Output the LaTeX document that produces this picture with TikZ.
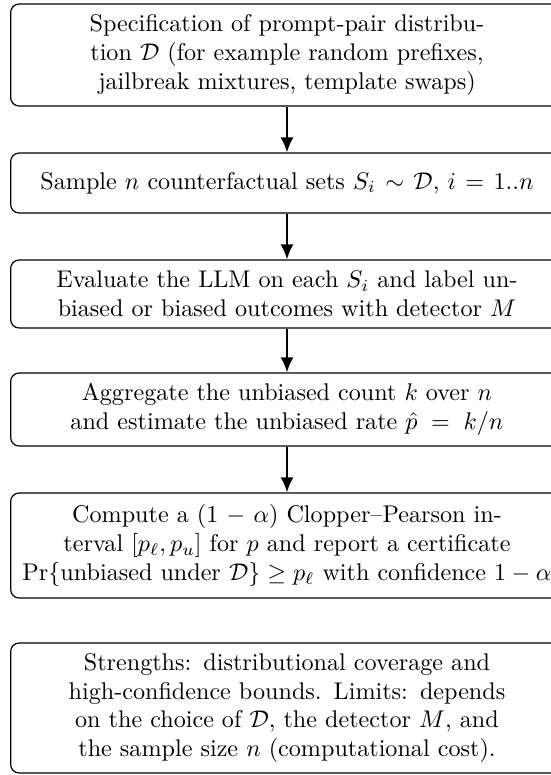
\documentclass[tikz,border=0pt]{standalone}
\usepackage{amsmath,amssymb}
\usetikzlibrary{arrows.meta}

\tikzset{
  stagebox/.style={draw, rounded corners=3.5pt, line width=0.5pt,
    text width=7.75cm, inner xsep=4.2pt, align=center},
  flowarrow/.style={line width=0.8pt, -{Latex[length=6.2pt,width=5.4pt]}}
}

\begin{document}
\begin{tikzpicture}[x=0.4142pt, y=-0.4142pt]
  % page frame, 551 x 775 units
  \useasboundingbox (0,0) rectangle (551,775);
  \clip (0,0) rectangle (551,775);

  \node[stagebox, minimum height=102*0.4142pt] (spec) at (287,55)
    {Specification of prompt-pair distribution $\mathcal{D}$ (for example random prefixes, jailbreak mixtures, template swaps)};
  \node[stagebox, minimum height=60*0.4142pt] (sample) at (287,183)
    {Sample $n$ counterfactual sets $S_i \sim \mathcal{D}$, $i = 1..n$};
  \node[stagebox, minimum height=68*0.4142pt] (eval) at (287,294)
    {Evaluate the LLM on each $S_i$ and label unbiased or biased outcomes with detector $M$};
  \node[stagebox, minimum height=73*0.4142pt] (agg) at (287,409.5)
    {Aggregate the unbiased count $k$ over $n$ and estimate the unbiased rate $\hat{p} = k/n$};
  \node[stagebox, minimum height=105*0.4142pt] (cp) at (287,545.5)
    {Compute a $(1-\alpha)$ Clopper--Pearson interval $[p_\ell, p_u]$ for $p$ and report a certificate $\Pr\{\text{unbiased under }\mathcal{D}\} \ge p_\ell$ with confidence $1-\alpha$};
  \node[stagebox, minimum height=130*0.4142pt] (notes) at (287,708)
    {Strengths: distributional coverage and high-confidence bounds. Limits: depends on the choice of $\mathcal{D}$, the detector $M$, and the sample size $n$ (computational cost).};

  \draw[flowarrow] (spec) -- (sample);
  \draw[flowarrow] (sample) -- (eval);
  \draw[flowarrow] (eval) -- (agg);
  \draw[flowarrow] (agg) -- (cp);
\end{tikzpicture}
\end{document}
